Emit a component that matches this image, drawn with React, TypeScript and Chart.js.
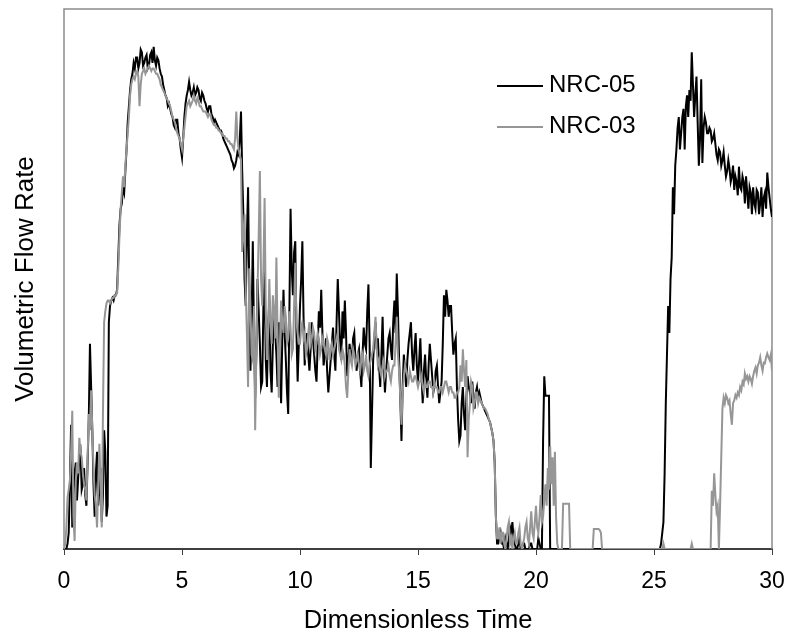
import React, { useEffect, useRef } from "react";
import { Chart, registerables } from "chart.js";

Chart.register(...registerables);

// Sampling interval of the recorded series (dimensionless time units)
const STEP = 0.05;

// Axis settings
const X_MIN = 0;
const X_MAX = 30;
const X_TICK_STEP = 5;
const Y_MIN = 0;
const Y_MAX = 100;

const X_TITLE = "Dimensionless Time";
const Y_TITLE = "Volumetric Flow Rate";
const SERIES_NAMES = ["NRC-05", "NRC-03"];

// NRC-05 (black); one row per unit of time: t = n.00 ... n.95
const NRC05 = [
  0, 0, 0, 1, 3, 12, 23, 4, 10, 14, 16, 9, 13, 17, 18, 11, 12, 15, 10, 8,
  16, 24, 38, 30, 22, 12, 6, 14, 18, 8, 11, 15, 5, 10, 22, 18, 6, 8, 42, 45,
  46, 46.5, 46, 47, 47, 48, 54, 60, 63, 64, 67, 66, 70, 74, 79, 82, 85, 87, 88, 90,
  89, 91, 91, 89, 90, 92.5, 92, 89.5, 90, 91, 91.5, 89, 89.5, 91.5, 92, 90, 93, 90.5, 89.5, 91,
  90.5, 89, 88, 87.5, 86, 85, 84, 83.5, 82, 82.5, 81.5, 80.5, 80, 78.5, 78, 79.5, 79.5, 77, 76, 74,
  72.5, 76, 80, 82.5, 84, 85, 86.5, 85, 84, 84.5, 85.5, 84, 84.5, 85.5, 85, 83.5, 83, 84.5, 84, 83,
  82.5, 81.5, 81, 82, 82, 80.5, 80, 79, 79.5, 79, 78.5, 78, 77.5, 77.5, 77, 76, 75.5, 75, 74.5, 74,
  73.5, 73, 72, 71.5, 70.5, 71, 72, 73.5, 73, 76, 81, 70, 62, 50, 45, 58, 67, 48, 33, 42,
  57, 40, 28, 36, 50, 44, 38, 30, 31, 45, 52, 35, 30, 41, 46, 33, 29, 38, 45, 40,
  36, 30, 42, 33, 27, 39, 48, 40, 35, 29, 25, 44, 63, 52, 47, 55, 57, 40, 31, 38,
  45, 50, 57, 43, 34, 38, 40, 36, 33, 37, 42, 39, 36, 33, 31, 38, 44, 41, 48, 40,
  34, 36, 39, 33, 29, 32, 35, 38, 41, 36, 33, 42, 50, 44, 38, 35, 44, 39, 46, 40,
  32, 35, 38, 36, 35, 39, 40, 35, 33, 36, 37, 33, 30, 36, 41, 38, 37, 44, 49, 38,
  15, 25, 35, 39, 42, 37, 39, 34, 30, 36, 43, 34, 29, 33, 36, 39, 40, 37, 35, 42,
  46, 40, 51, 44, 35, 28, 20, 30, 36, 33, 30, 35, 38, 40, 42, 36, 33, 37, 40, 34,
  31, 35, 39, 32, 27, 33, 36, 31, 28, 34, 38, 35, 32, 29, 30, 33, 34, 30, 27, 29,
  31, 38, 47, 43, 48, 46, 43, 45, 45, 40, 36, 38, 39, 30, 24, 20, 21, 27, 30, 25,
  22, 28, 32, 30, 29, 27, 31, 28, 26, 29, 30, 28, 29, 28, 27, 26.5, 26, 25.5, 25, 24.5,
  24, 23.5, 22.5, 21.5, 20, 16, 6, 1, 1, 2, 3, 1, 1, 0, 2, 1, 0, 2, 4, 3,
  5, 2, 1, 0, 0, 1, 2, 0, 0, 1, 1, 0, 0, 0, 0, 1, 1, 0, 0, 0,
  0, 0, 2, 1, 0, 0, 20, 32, 28.4, 28.4, 28.4, 28.4, 0, 0, 0, 0, 0, 0, 0, 0,
  0, 0, 0, 0, 0, 0, 0, 0, 0, 0, 0, 0, 0, 0, 0, 0, 0, 0, 0, 0,
  0, 0, 0, 0, 0, 0, 0, 0, 0, 0, 0, 0, 0, 0, 0, 0, 0, 0, 0, 0,
  0, 0, 0, 0, 0, 0, 0, 0, 0, 0, 0, 0, 0, 0, 0, 0, 0, 0, 0, 0,
  0, 0, 0, 0, 0, 0, 0, 0, 0, 0, 0, 0, 0, 0, 0, 0, 0, 0, 0, 0,
  0, 0, 0, 0, 0, 0, 1, 3, 5, 14, 27, 36, 45, 40, 50, 54, 67, 62, 71, 74,
  78, 80, 74, 77, 80, 81.5, 74, 82, 84, 80, 85, 83, 92, 86, 80, 84, 87.5, 79, 71, 76,
  87, 71.5, 78, 80, 79, 77, 77, 78, 77.5, 75.5, 76, 77, 75, 73, 72, 74, 73.5, 71, 72, 73.5,
  71, 69, 70, 72, 70.5, 68, 69, 71, 66.5, 69, 68, 65.5, 70.8, 67, 66.5, 69, 68, 64, 69, 66,
  63, 67, 66, 62, 67, 64, 63, 66.5, 66, 62, 64, 67, 61.5, 65, 66, 63, 69.7, 67, 65, 63,
  61.5,
];

// NRC-03 (grey), same sampling
const NRC03 = [
  0, 1, 4, 9.5, 11, 12.6, 18, 25.6, 6, 1.5, 12.6, 16, 14, 20.6, 18, 17, 14, 12, 11, 9,
  17, 25, 22, 29.4, 22, 15, 10, 8, 4, 12, 19.5, 12, 4, 25, 42, 44, 45.5, 46, 46, 45.5,
  46, 46.5, 46.5, 47, 47, 47.5, 52, 58, 63, 66, 69, 67, 71, 74, 77, 80, 84, 86, 87, 87.5,
  87, 88, 88.5, 87.5, 82, 86, 88, 88.5, 89, 88, 88.5, 89, 89.5, 89, 88.5, 89, 89, 88.5, 88, 88,
  87.5, 87, 86, 85.5, 85, 84.5, 84, 83.5, 83, 82.5, 82, 81, 80, 79.5, 79, 78, 77, 76.5, 76, 75,
  74, 76, 78, 80, 82, 82.5, 83, 82, 82.5, 83, 84, 83, 82.5, 83.5, 83, 82, 82, 81.5, 81, 81,
  81, 80.5, 80, 80.5, 80.5, 79.5, 79, 78.5, 78.5, 78, 78, 77.5, 77.5, 77, 77, 76.5, 76.5, 76, 76, 75.5,
  75.5, 75, 75, 74.5, 74, 76, 81, 76, 74, 73, 72, 55, 58, 62, 48, 40, 30, 52, 45, 36,
  35, 45, 22, 36, 48, 58, 70, 50, 45, 52, 65, 44, 35, 40, 50, 42, 38, 47, 44, 39,
  54, 40, 28, 38, 46, 42, 40, 45, 43, 38, 39, 44, 41, 36, 37, 45, 53, 42, 40, 38,
  38, 41, 42, 39, 40, 36, 37, 40, 42, 38, 39, 41, 40, 37, 38, 40, 39, 36, 37, 39,
  38, 37, 36, 39, 38, 35, 37, 38, 36, 37, 38, 39, 40, 37, 36, 35, 37, 36, 34, 30,
  28, 33, 37, 35, 34, 37, 36, 34, 35, 36, 34, 33, 35, 36, 33, 34, 36, 33, 32, 34,
  35, 36, 37, 40, 43, 37, 34, 35, 33, 32, 34, 35, 32, 33, 33, 34, 32, 31, 33, 34,
  34, 38, 43, 36, 33, 28, 23, 29, 32, 34, 33, 32, 31, 33, 32, 31, 31, 32, 32, 31,
  30, 31, 31, 32, 30, 29, 31, 30, 30, 31, 31, 30, 30, 29, 31, 30, 30, 29, 29, 30,
  30, 29, 30, 31, 31, 30, 29, 30, 30, 29, 29, 28, 28, 29, 29, 30, 34, 31, 37, 33,
  30, 35, 17, 24, 27, 31, 30, 26, 27, 29, 29, 27, 28, 27.5, 27, 26.5, 26, 26, 25.5, 25,
  24, 23.5, 22.5, 21.5, 20, 16, 6, 2, 2, 4, 1, 3, 3, 1, 0, 2, 4, 5, 1, 2,
  0, 2, 3, 1, 1, 3, 4, 1, 0, 1, 2, 4, 5, 2, 1, 4, 7, 3, 2, 5,
  8, 4, 3, 6, 10, 5, 6, 9, 12, 8, 15, 11, 19, 12, 17, 8, 18, 6, 1, 0,
  0, 0, 0, 8.4, 8.4, 8.4, 8.4, 8.4, 8.4, 0, 0, 0, 0, 0, 0, 0, 0, 0, 0, 0,
  0, 0, 0, 0, 0, 0, 0, 0, 0, 3.7, 3.7, 3.7, 3.7, 3.7, 3.5, 3, 0, 0, 0, 0,
  0, 0, 0, 0, 0, 0, 0, 0, 0, 0, 0, 0, 0, 0, 0, 0, 0, 0, 0, 0,
  0, 0, 0, 0, 0, 0, 0, 0, 0, 0, 0, 0, 0, 0, 0, 0, 0, 0, 0, 0,
  0, 0, 0, 0, 0, 0, 0, 0, 1, 0, 0, 0, 0, 0, 0, 0, 0, 0, 0, 0,
  0, 0, 0, 0, 0, 0, 0, 0, 0, 0, 0, 0, 1, 0, 0, 0, 0, 0, 0, 0,
  0, 0, 0, 0, 0, 0, 0, 0, 0, 10.8, 8, 14, 10, 7, 8, 0, 8, 17, 26, 28,
  27, 28.5, 28, 27, 27.5, 25, 23, 27, 27.5, 28.5, 28, 29, 28.5, 30, 29.4, 31, 30.5, 32.5, 31.5, 32,
  31, 32, 31.5, 30.6, 32, 33, 33.6, 32.5, 34, 34.5, 35.5, 34, 33, 34.5, 34.4, 35.5, 36.2, 35.5, 35, 36,
  33,
];

const COLORS = ["#000000", "#969696"];
const FONT = "'Liberation Sans', Arial, Helvetica, sans-serif";

const toPoints = (arr: number[]) => arr.map((y, i) => ({ x: Math.round(i * STEP * 100) / 100, y }));

const framePlugin = {
  id: "frameAndLegend",
  beforeDatasetsDraw(chart: any) {
    const { ctx, chartArea: a } = chart;
    ctx.save();
    ctx.strokeStyle = "#8c8c8c";
    ctx.lineWidth = 1.5;
    ctx.beginPath();
    ctx.moveTo(a.left, a.bottom);
    ctx.lineTo(a.left, a.top);
    ctx.lineTo(a.right, a.top);
    ctx.lineTo(a.right, a.bottom);
    ctx.stroke();
    ctx.restore();
  },
  afterDraw(chart: any) {
    const { ctx } = chart;
    const rows = [
      { lineY: 86, textY: 85 },
      { lineY: 127, textY: 126 },
    ];
    ctx.save();
    chart.data.datasets.forEach((ds: any, i: number) => {
      const r = rows[i];
      ctx.strokeStyle = ds.borderColor;
      ctx.lineWidth = 2;
      ctx.beginPath();
      ctx.moveTo(497, r.lineY);
      ctx.lineTo(543, r.lineY);
      ctx.stroke();
      ctx.fillStyle = "#000";
      ctx.font = `24px ${FONT}`;
      ctx.textAlign = "left";
      ctx.textBaseline = "middle";
      ctx.fillText(ds.label, 549, r.textY);
    });
    ctx.restore();
  },
};

export default function App() {
  const ref = useRef<HTMLCanvasElement | null>(null);

  useEffect(() => {
    if (!ref.current) return;
    const chart = new Chart(ref.current, {
      type: "line",
      data: {
        datasets: [
          {
            label: SERIES_NAMES[0],
            data: toPoints(NRC05),
            borderColor: COLORS[0],
            backgroundColor: COLORS[0],
            borderWidth: 2,
            pointRadius: 0,
            tension: 0,
            order: 1,
          },
          {
            label: SERIES_NAMES[1],
            data: toPoints(NRC03),
            borderColor: COLORS[1],
            backgroundColor: COLORS[1],
            borderWidth: 2,
            pointRadius: 0,
            tension: 0,
            order: 0,
          },
        ],
      },
      options: {
        responsive: false,
        animation: false,
        layout: { padding: { left: 0, right: 19, top: 9, bottom: 0 } },
        plugins: {
          legend: { display: false },
          tooltip: { enabled: false },
        },
        scales: {
          x: {
            type: "linear",
            min: X_MIN,
            max: X_MAX,
            afterFit: (s: any) => {
              s.height = 95;
              s.paddingLeft = 0;
              s.paddingRight = 0;
            },
            ticks: {
              stepSize: X_TICK_STEP,
              autoSkip: false,
              maxRotation: 0,
              padding: 13,
              color: "#000",
              font: { family: FONT, size: 23 },
            },
            grid: {
              drawOnChartArea: false,
              drawTicks: true,
              tickLength: 6,
              color: "#404040",
              lineWidth: 1,
            },
            border: { display: true, color: "#404040", width: 2 },
            title: {
              display: true,
              text: X_TITLE,
              color: "#000",
              font: { family: FONT, size: 25.5 },
              padding: { top: 0, bottom: 8 },
            },
          },
          y: {
            type: "linear",
            min: Y_MIN,
            max: Y_MAX,
            afterFit: (s: any) => {
              s.width = 64;
            },
            ticks: { display: false },
            grid: { display: false },
            border: { display: false },
            title: {
              display: true,
              text: Y_TITLE,
              color: "#000",
              font: { family: FONT, size: 26 },
              padding: { top: 10, bottom: 0 },
            },
          },
        },
      },
      plugins: [framePlugin],
    } as any);
    return () => chart.destroy();
  }, []);

  return (
    <div style={{ position: "fixed", left: 0, top: 0, width: 791, height: 644, background: "#fff" }}>
      <canvas ref={ref} width={791} height={644} style={{ display: "block" }} />
    </div>
  );
}
